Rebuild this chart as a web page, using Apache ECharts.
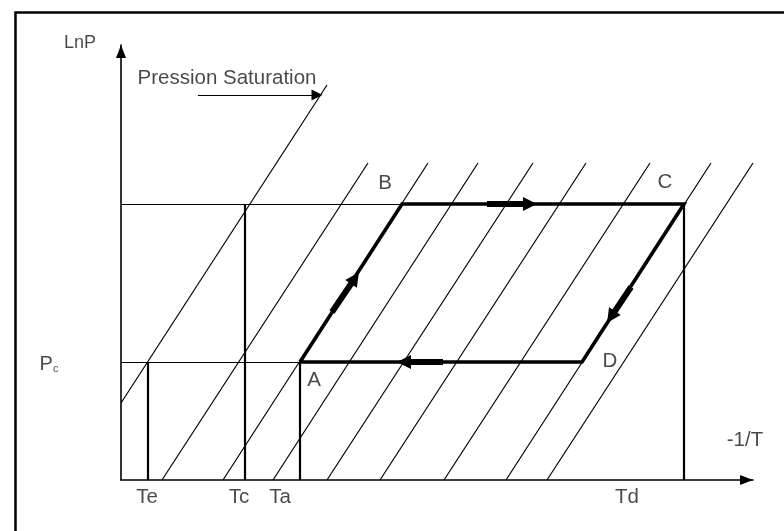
<!DOCTYPE html>
<html>
<head>
<meta charset="utf-8">
<script src="https://cdn.jsdelivr.net/npm/echarts@6/dist/echarts.min.js"></script>
<style>html,body{margin:0;padding:0;background:#fff}#c{width:784px;height:531px}</style>
</head>
<body>
<div id="c"></div>
<script>
// ---- data (diagram units) ----
const pLow = 118;            // Pc (evaporation pressure level)
const pHigh = 276;           // condensation pressure level
const pointA = [179, pLow];
const pointB = [281, pHigh];
const pointC = [563, pHigh];
const pointD = [461, pLow];
const isostereBottomX = [41, 102, 152, 206, 259, 323, 385, 426];
const isostereTopX = [247, 307, 357, 412, 465, 529, 590, 632];
const isostereTopY = 317;
const saturationLine = [[0, 77], [206, 395]];
const verticalX = [27, 124, 179, 563];          // Te, Tc, Ta, Td
const verticalTop = [pLow, pHigh, pLow, pHigh];
const cycleArrows = [
  [[366, 276], [409, 276]],
  [[322, 118], [283, 118]],
  [[211, 168], [234, 202]],
  [[510, 193], [490, 163]]
];
const satArrow = [[77, 385], [196, 385]];
const tickLabels = ['Te', 'Tc', 'Ta', 'Td'];
const tickLabelX = [26, 118, 159, 506];
const pointLabels = ['A', 'B', 'C', 'D'];
const pointLabelPos = [[193, 100], [264, 297], [544, 298], [489, 119]];

// ---- build ----
const thinSegs = [];
for (let i = 0; i < isostereBottomX.length; i++) {
  thinSegs.push({ coords: [[isostereBottomX[i], 0], [isostereTopX[i], isostereTopY]] });
}
thinSegs.push({ coords: saturationLine });
thinSegs.push({ coords: [[0, pLow], pointA] });
thinSegs.push({ coords: [[0, pHigh], pointB] });

const vertSegs = verticalX.map((x, i) => ({ coords: [[x, 0], [x, verticalTop[i]]] }));

const textData = [];
tickLabels.forEach((t, i) => textData.push([tickLabelX[i], -17, t]));
pointLabels.forEach((t, i) => textData.push([pointLabelPos[i][0], pointLabelPos[i][1], t]));
textData.push([-41, 437, '{l|LnP}']);
textData.push([106, 402, 'Pression Saturation']);
textData.push([624, 40, '-1/T']);
textData.push([-72, 116, '{p|P}{s|c}']);

const FONT = 'Liberation Sans';
const TXT = '#1a1a1a';
const chart = echarts.init(document.getElementById('c'), null, { renderer: 'canvas' });
const axisCommon = {
  type: 'value', min: 0,
  axisLine: { show: true, onZero: false, symbol: ['none', 'triangle'], symbolSize: [10, 13], symbolOffset: [0, -6.5],
    lineStyle: { color: '#000', width: 1.6 } },
  axisTick: { show: false }, axisLabel: { show: false }, splitLine: { show: false }
};
chart.setOption({
  animation: false,
  backgroundColor: '#fff',
  grid: { left: 121, right: 31, top: 45, bottom: 51, outerBoundsMode: 'none' },
  xAxis: Object.assign({}, axisCommon, { max: 632 }),
  yAxis: Object.assign({}, axisCommon, { max: 435 }),
  graphic: [{ type: 'rect', left: 13, top: 10, shape: { width: 800, height: 560 },
    style: { fill: 'none', stroke: '#000', lineWidth: 2.5 }, silent: true }],
  series: [
    { type: 'lines', coordinateSystem: 'cartesian2d', silent: true, clip: false,
      lineStyle: { color: '#000', width: 1.2, opacity: 1 }, data: thinSegs },
    { type: 'lines', coordinateSystem: 'cartesian2d', silent: true, clip: false,
      lineStyle: { color: '#000', width: 2.2, opacity: 1 }, data: vertSegs },
    { type: 'line', silent: true, clip: false, symbol: 'none',
      lineStyle: { color: '#000', width: 3.6, join: 'miter' },
      data: [pointA, pointB, pointC, pointD, pointA] },
    { type: 'lines', coordinateSystem: 'cartesian2d', silent: true, clip: false,
      symbol: ['none', 'triangle'], symbolSize: [12, 14],
      lineStyle: { color: '#000', width: 6, opacity: 1, cap: 'butt' },
      data: cycleArrows.map(c => ({ coords: c })) },
    { type: 'lines', coordinateSystem: 'cartesian2d', silent: true, clip: false,
      symbol: ['none', 'triangle'], symbolSize: [8, 11],
      lineStyle: { color: '#000', width: 1.2, opacity: 1 },
      data: [{ coords: satArrow }] },
    { type: 'scatter', silent: true, clip: false, symbolSize: 1,
      itemStyle: { color: 'transparent' },
      label: { show: true, position: 'inside', color: TXT, fontFamily: FONT, fontSize: 20.5,
        formatter: p => p.data[2],
        rich: { p: { fontSize: 20, fontFamily: FONT, color: TXT },
                l: { fontSize: 18, fontFamily: FONT, color: TXT },
                s: { fontSize: 11, fontFamily: FONT, color: TXT, padding: [9, 0, 0, 0] } } },
      data: textData }
  ]
});
</script>
</body>
</html>
